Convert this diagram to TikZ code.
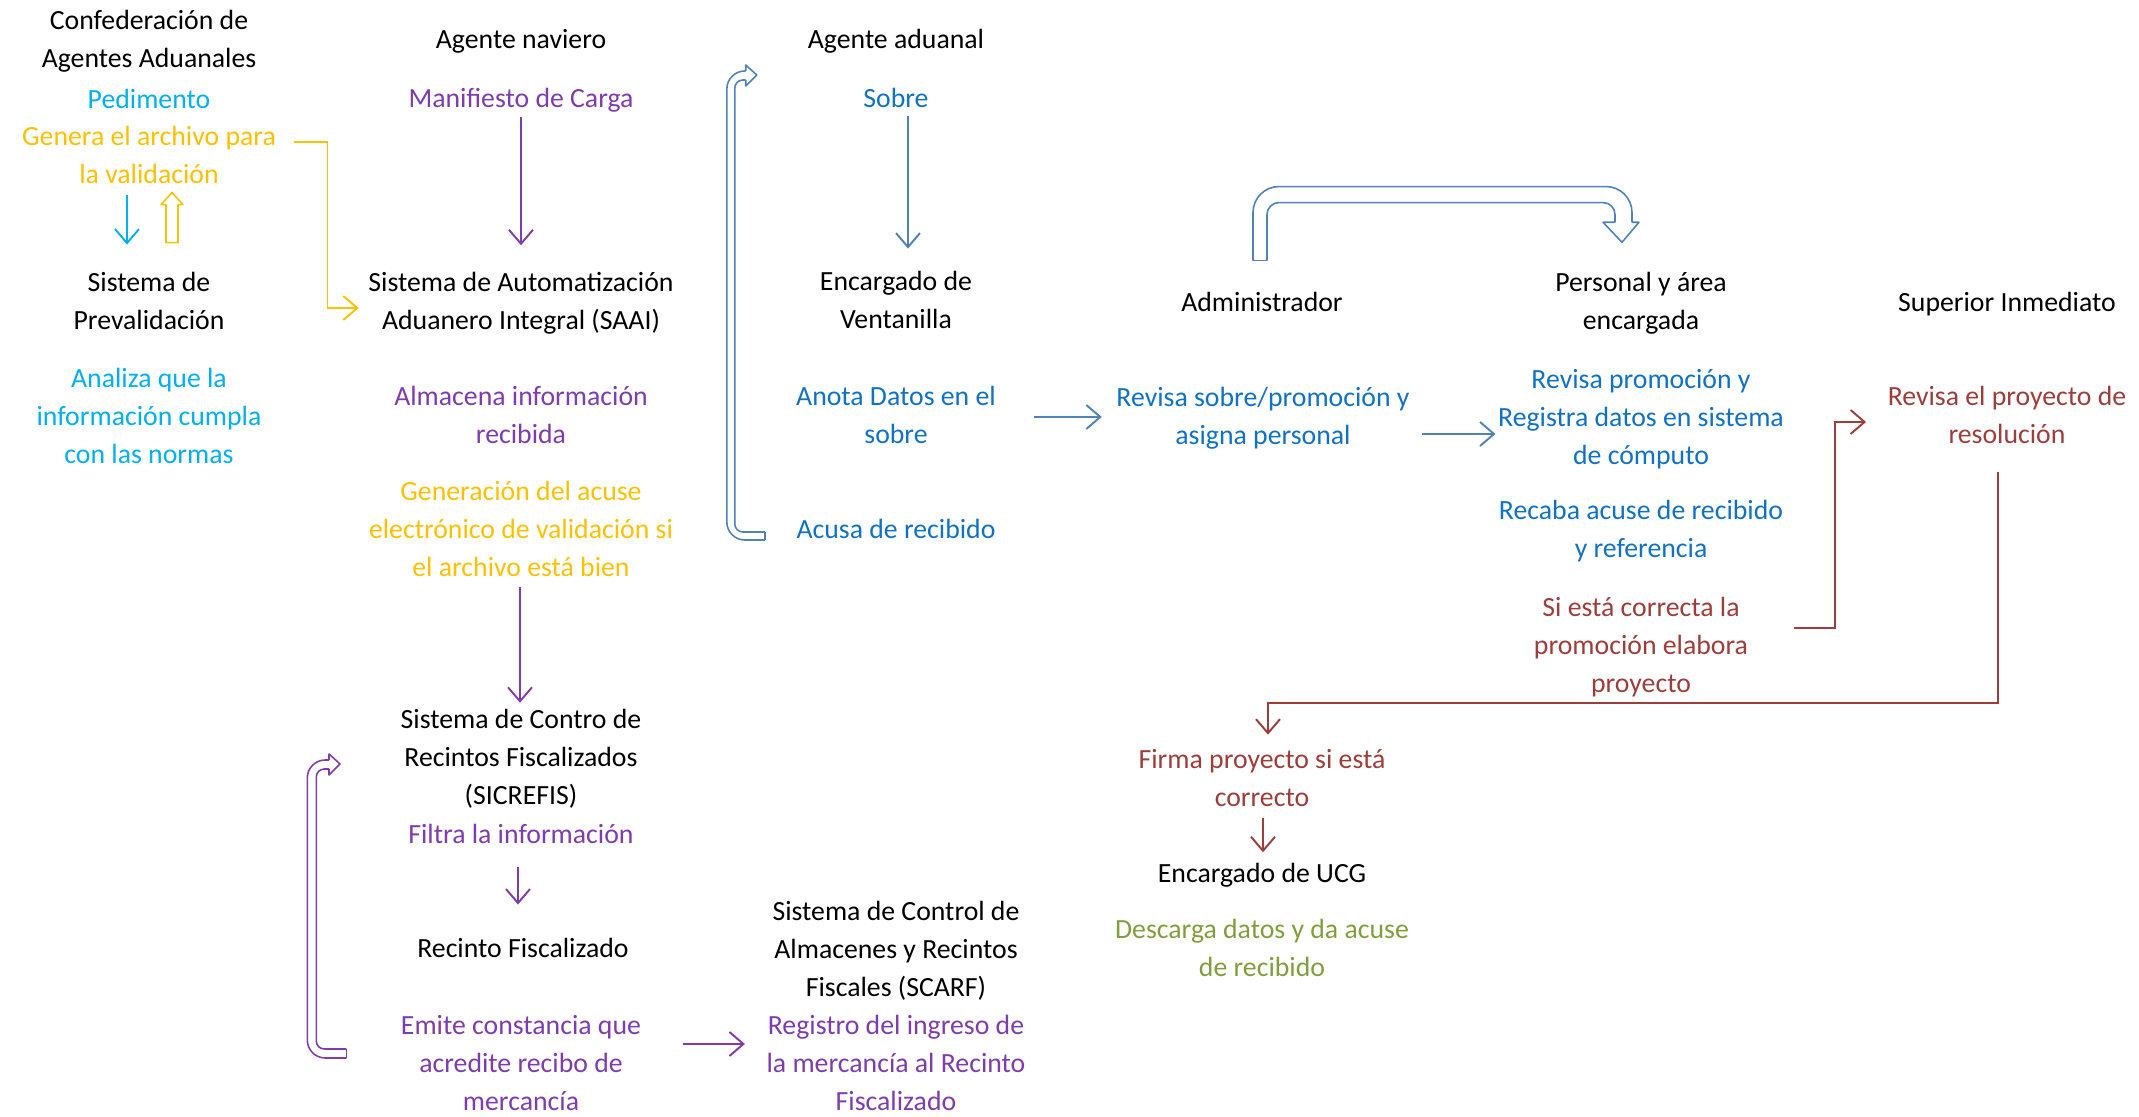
\documentclass[tikz,border=0pt]{standalone}
\usepackage{fontspec}
\setmainfont{Carlito}
\usepackage{tikz}
\usetikzlibrary{arrows.meta}

\definecolor{cyanT}{HTML}{00B0F0}
\definecolor{yelT}{HTML}{FFC000}
\definecolor{purT}{HTML}{7F3BB0}
\definecolor{bluT}{HTML}{0F72C8}
\definecolor{bluL}{HTML}{4F81BD}
\definecolor{redT}{HTML}{9E3D3A}
\definecolor{grnT}{HTML}{7F9F3A}

\begin{document}
\begin{tikzpicture}[x=0.1mm, y=-0.1mm,
    txt/.style={inner sep=0pt, align=center, font=\fontsize{7.9}{10.8}\selectfont},
    arr/.style={-{Straight Barb[length=1.4mm, width=2.4mm]}, line width=0.55pt},
    hollow/.style={line width=0.45pt, line join=round}]
    \useasboundingbox (0,0) rectangle (2139,1117);

    \node[txt] (conf) at (149,41) {Confederación de\\Agentes Aduanales};
    \node[txt, text=cyanT] (pedim) at (149,99) {Pedimento};
    \node[txt, text=yelT] (genera) at (149,155) {Genera el archivo para\\la validación};
    \node[txt] (preval) at (149,301) {Sistema de\\Prevalidación};
    \node[txt, text=cyanT] (analiza) at (149,416) {Analiza que la\\información cumpla\\con las normas};

    \node[txt] (naviero) at (521,41) {Agente naviero};
    \node[txt, text=purT] (manif) at (521,100) {Manifiesto de Carga};
    \node[txt] (saai) at (521,303) {Sistema de Automatización\\Aduanero Integral (SAAI)};
    \node[txt, text=purT] (almacena) at (521,415) {Almacena información\\recibida};
    \node[txt, text=yelT] (acuse) at (521,529) {Generación del acuse\\electrónico de validación si\\el archivo está bien};
    \node[txt] (sicrefis) at (521,759) {Sistema de Contro de\\Recintos Fiscalizados\\(SICREFIS)};
    \node[txt, text=purT] (filtra) at (521,834) {Filtra la información};
    \node[txt] (recinto) at (523,948) {Recinto Fiscalizado};
    \node[txt, text=purT] (emite) at (521,1063) {Emite constancia que\\acredite recibo de\\mercancía};

    \node[txt] (aduanal) at (896,41) {Agente aduanal};
    \node[txt, text=bluT] (sobre) at (896,98) {Sobre};
    \node[txt] (ventan) at (896,300) {Encargado de\\Ventanilla};
    \node[txt, text=bluT] (anota) at (896,415) {Anota Datos en el\\sobre};
    \node[txt, text=bluT] (acusa) at (896,529) {Acusa de recibido};
    \node[txt] (scarf) at (896,951) {Sistema de Control de\\Almacenes y Recintos\\Fiscales (SCARF)};
    \node[txt, text=purT] (registro) at (896,1063) {Registro del ingreso de\\la mercancía al Recinto\\Fiscalizado};

    \node[txt] (admin) at (1262,302) {Administrador};
    \node[txt, text=bluT] (revisa) at (1263,418) {Revisa sobre/promoción y\\asigna personal};
    \node[txt, text=redT] (firma) at (1262,778) {Firma proyecto si está\\correcto};
    \node[txt] (ucg) at (1262,875) {Encargado de UCG};
    \node[txt, text=grnT] (descarga) at (1262,948) {Descarga datos y da acuse\\de recibido};

    \node[txt] (personal) at (1641,303) {Personal y área\\encargada};
    \node[txt, text=bluT] (revprom) at (1641,419) {Revisa promoción y\\Registra datos en sistema\\de cómputo};
    \node[txt, text=bluT] (recaba) at (1641,531) {Recaba acuse de recibido\\y referencia};
    \node[txt, text=redT] (sicorr) at (1641,647) {Si está correcta la\\promoción elabora\\proyecto};

    \node[txt] (superior) at (2007,304) {Superior Inmediato};
    \node[txt, text=redT] (revproy) at (2007,415) {Revisa el proyecto de\\resolución};

    \draw[arr, cyanT] ([shift={(-22,11)}]genera.south) -- ([shift={(-22,-27)}]preval.north);
    \draw[hollow, yelT] ([shift={(17,-29)}]preval.north) -- ++(0,-38) -- ++(-5,0) -- ++(11,-12)
        -- ++(11,12) -- ++(-5,0) -- ++(0,38) -- cycle;
    \draw[arr, yelT] ([shift={(17,-13)}]genera.east) -- ++(34,0) |- ([shift={(-9,5)}]saai.west);

    \draw[arr, purT] ([shift={(0,4)}]manif.south) -- ([shift={(0,-26)}]saai.north);
    \draw[arr, purT] ([shift={(-1,10)}]acuse.south) -- ([shift={(-1,-6)}]sicrefis.north);
    \draw[arr, purT] ([shift={(-3,23)}]filtra.south) -- ([shift={(-5,-33)}]recinto.north);
    \draw[arr, purT] ([shift={(41,-19)}]emite.east) -- ([shift={(-21,-19)}]registro.west);

    \coordinate (pA) at ([shift={(-54,-5)}]emite.west);
    \coordinate (pB) at ([shift={(-60,5)}]sicrefis.west);
    \draw[hollow, purT, rounded corners=1.8mm] (pA) -- ++(-39,0) |- ([shift={(-11,-4)}]pB);
    \draw[hollow, purT, rounded corners=0.8mm] ([shift={(-11,5)}]pB) -| ([shift={(-30,-9)}]pA) -- ([shift={(0,-9)}]pA);
    \draw[hollow, purT] (pA) -- ([shift={(0,-9)}]pA);
    \draw[hollow, purT] ([shift={(-11,-4)}]pB) -- ++(0,-6) -- (pB) -- ++(-11,11) -- ++(0,-6);

    \draw[arr, bluL] ([shift={(12,8)}]sobre.south) -- ([shift={(12,-22)}]ventan.north);
    \draw[arr, bluL] ([shift={(37,2)}]anota.east) -- ([shift={(-14,-1)}]revisa.west);
    \draw[arr, bluL] ([shift={(12,16)}]revisa.east) -- ([shift={(-2,15)}]revprom.west);

    \coordinate (bA) at ([shift={(-31,11)}]acusa.west);
    \coordinate (bB) at ([shift={(-106,-23)}]sobre.west);
    \draw[hollow, bluL, rounded corners=1.8mm] (bA) -- ++(-38,0) |- ([shift={(-11,-4)}]bB);
    \draw[hollow, bluL, rounded corners=0.8mm] ([shift={(-11,5)}]bB) -| ([shift={(-30,-8)}]bA) -- ([shift={(0,-8)}]bA);
    \draw[hollow, bluL] (bA) -- ([shift={(0,-8)}]bA);
    \draw[hollow, bluL] ([shift={(-11,-4)}]bB) -- ++(0,-6) -- (bB) -- ++(-11,11) -- ++(0,-6);

    \coordinate (tA) at ([shift={(-9,-31)}]admin.north);
    \coordinate (tB) at ([shift={(-19,-29)}]personal.north);
    \draw[hollow, bluL, rounded corners=2.6mm] (tA) -- ++(0,-74) -| ([shift={(10,-20)}]tB);
    \draw[hollow, bluL, rounded corners=1.2mm] ([shift={(14,0)}]tA) -- ++(0,-58) -| ([shift={(-7,-20)}]tB);
    \draw[hollow, bluL] (tA) -- ++(14,0);
    \draw[hollow, bluL] ([shift={(10,-20)}]tB) -- ++(7,0) -- (tB) -- ++(-19,-20) -- ++(12,0);

    \draw[arr, redT] ([shift={(45,-19)}]sicorr.east) -- ++(41,0) |- ([shift={(-21,7)}]revproy.west);
    \draw[arr, redT] ([shift={(-9,28)}]revproy.south) -- ++(0,231) -| ([shift={(6,-14)}]firma.north);
    \draw[arr, redT] ([shift={(1,11)}]firma.south) -- ([shift={(1,-10)}]ucg.north);
\end{tikzpicture}
\end{document}
